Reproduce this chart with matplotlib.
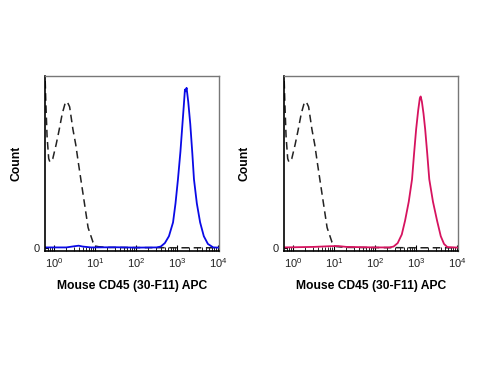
import numpy as np
import matplotlib
matplotlib.use("Agg")
import matplotlib.pyplot as plt
from matplotlib.ticker import LogLocator, NullFormatter, FixedLocator

plt.rcParams['font.family'] = ['Liberation Sans', 'DejaVu Sans']
plt.rcParams['mathtext.fontset'] = 'custom'
plt.rcParams['mathtext.rm'] = 'Liberation Sans'
plt.rcParams['mathtext.it'] = 'Liberation Sans'

# isotype control (dashed), log10 of intensity and % of max count
ctrl_log = [-0.215, -0.2, -0.17, -0.13, -0.1, -0.03, 0.05, 0.12, 0.2, 0.27,
            0.32, 0.38, 0.46, 0.53, 0.59, 0.71, 0.83, 0.95, 1.05, 1.3, 3.0, 4.02]
ctrl_cnt = [97, 85, 65, 52, 50, 52, 60, 68, 78, 84,
            85, 82, 69, 60, 50, 31, 12, 3.5, 1, 0.5, 0.3, 0.3]

# CD45 APC stained, left panel (blue)
blue_log = [-0.22, 0.3, 0.5, 0.6, 0.7, 0.9, 1.5, 2.0, 2.5, 2.6, 2.7, 2.8, 2.9,
            2.96, 3.02, 3.08, 3.12, 3.16, 3.19, 3.21, 3.23, 3.27, 3.32, 3.37,
            3.41, 3.48, 3.56, 3.65, 3.75, 3.88, 4.02]
blue_cnt = [0.5, 0.5, 1.2, 1.5, 1.0, 0.5, 0.6, 0.4, 0.5, 1, 3, 7, 15,
            26, 40, 56, 69, 82, 92, 91, 93, 85, 72, 55,
            40, 26, 15, 7, 2.5, 0.5, 0.4]

# CD45 APC stained, right panel (red)
red_log = [-0.22, 0.5, 0.9, 1.1, 1.3, 2.0, 2.35, 2.45, 2.55, 2.65, 2.73, 2.82,
           2.9, 2.95, 3.0, 3.05, 3.09, 3.11, 3.14, 3.18, 3.22, 3.27, 3.32,
           3.41, 3.51, 3.6, 3.68, 3.76, 4.02]
red_cnt = [0.5, 0.8, 1.2, 1.3, 0.8, 0.5, 0.5, 1, 3, 8, 16, 27,
           40, 55, 69, 80, 87, 88, 85, 78, 69, 55, 40,
           27, 16, 7, 2.5, 0.7, 0.4]

xlabel = 'Mouse CD45 (30-F11) APC'

fig = plt.figure(figsize=(5, 3.75), dpi=100)
panels = [
    (0.09, blue_log, blue_cnt, '#0a0ae6', -0.13),
    (0.568, red_log, red_cnt, '#d6135f', -0.195),
]

for left, xs, ys, color, lab_x in panels:
    ax = fig.add_axes([left, 0.331, 0.348, 0.467])
    ax.plot(10 ** np.array(ctrl_log), ctrl_cnt, color='#222222', lw=1.1,
            ls=(0, (5, 3)))
    ax.plot(10 ** np.array(xs), ys, color=color, lw=1.3)
    ax.set_xscale('log')
    ax.set_xlim(10 ** -0.22, 10 ** 4.02)
    ax.set_ylim(-1.5, 100)
    ax.xaxis.set_major_locator(FixedLocator([1, 10, 100, 1000, 10000]))
    ax.xaxis.set_minor_locator(LogLocator(base=10, subs=np.arange(2, 10)))
    ax.xaxis.set_minor_formatter(NullFormatter())
    ax.set_xticklabels(['$10^0$', '$10^1$', '$10^2$', '$10^3$', '$10^4$'])
    ax.tick_params(axis='x', which='major', direction='in', length=4,
                   labelsize=8, pad=4, labelcolor='#222222')
    ax.tick_params(axis='x', which='minor', direction='in', length=3)
    ax.set_yticks([0])
    ax.set_yticklabels(['0'])
    ax.tick_params(axis='y', direction='in', length=2, labelsize=8, pad=4,
                   labelcolor='#222222')
    for s in ['left', 'bottom']:
        ax.spines[s].set_linewidth(1.2)
        ax.spines[s].set_color('black')
    for s in ['top', 'right']:
        ax.spines[s].set_linewidth(1.0)
        ax.spines[s].set_color('#777777')
    ax.set_xlabel(xlabel, fontsize=8.7, fontweight='bold', labelpad=7)
    ax.set_ylabel('Count', fontsize=8.7, fontweight='bold')
    ax.yaxis.set_label_coords(lab_x, 0.5)

fig.savefig('out.png', dpi=100)
